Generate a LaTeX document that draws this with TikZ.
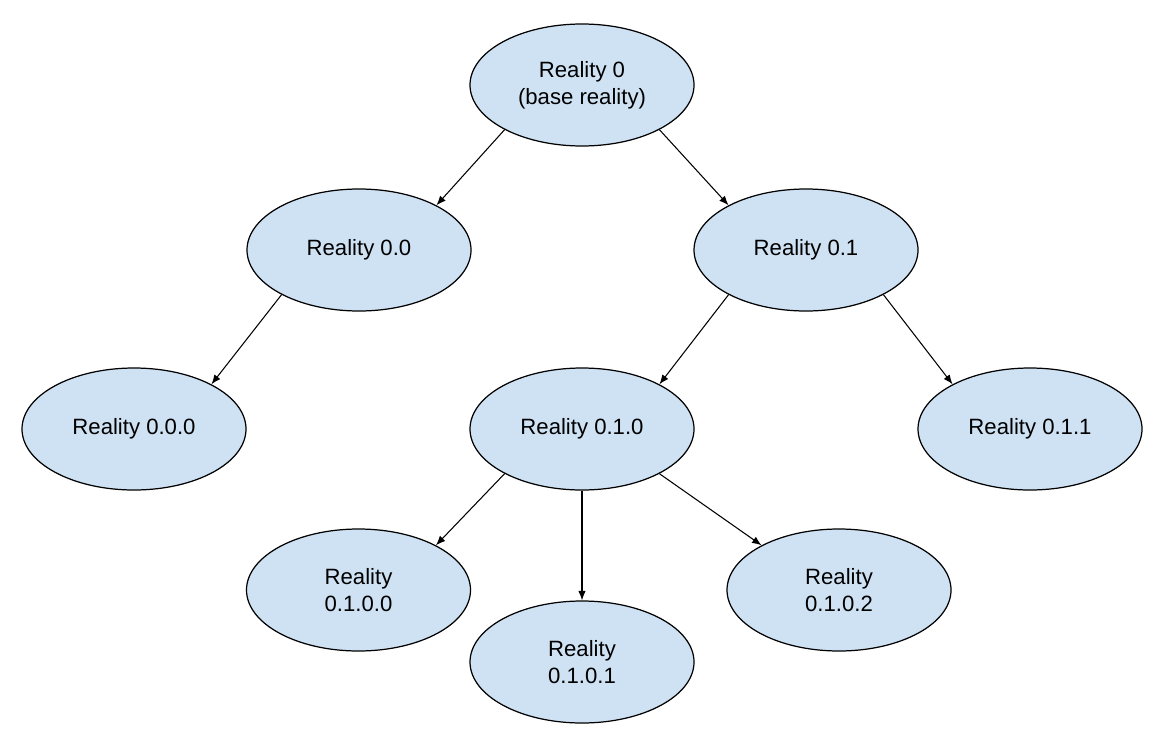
\documentclass[tikz,border=0pt]{standalone}
\usepackage{fontspec}
\setmainfont{Liberation Sans}
\usetikzlibrary{shapes.geometric,arrows.meta}
\definecolor{nodeblue}{HTML}{CFE2F3}
\tikzset{
	reality/.style={ellipse, draw, line width=.7pt, fill=nodeblue, minimum width=4.48cm, minimum height=2.44cm, inner sep=0pt, align=center, font=\fontsize{12.6}{15.2}\selectfont},
	link/.style={-{Latex[length=1.9mm,width=1.5mm]}, line width=.6pt}
}
\begin{document}
\begin{tikzpicture}
			\useasboundingbox (0,0) rectangle (23.3,-14.92);
			\node[reality] (r0) at (11.64,-1.7) {Reality 0\\(base reality)};
			\node[reality] (r00) at (7.18,-5) {Reality 0.0};
			\node[reality] (r01) at (16.12,-5) {Reality 0.1};
			\node[reality] (r000) at (2.68,-8.58) {Reality 0.0.0};
			\node[reality] (r010) at (11.64,-8.58) {Reality 0.1.0};
			\node[reality] (r011) at (20.6,-8.58) {Reality 0.1.1};
			\node[reality] (r0100) at (7.17,-11.8) {Reality\\0.1.0.0};
			\node[reality] (r0101) at (11.64,-13.24) {Reality\\0.1.0.1};
			\node[reality] (r0102) at (16.78,-11.8) {Reality\\0.1.0.2};
			\foreach \a/\b in {r0/r00,r00/r000,r01/r010,r010/r0100} \draw[link] (\a.210) -- (\b.30);
			\foreach \a/\b in {r0/r01,r01/r011,r010/r0102} \draw[link] (\a.330) -- (\b.150);
			\draw[link] (r010.south) -- (r0101.north);
		\end{tikzpicture}
\end{document}
